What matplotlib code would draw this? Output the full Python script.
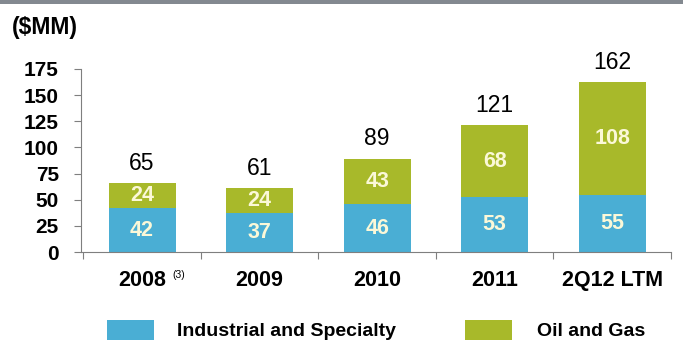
import matplotlib.pyplot as plt
import numpy as np
from matplotlib.patches import Rectangle

plt.rcParams['font.family'] = ['Liberation Sans', 'DejaVu Sans']

categories = ['2008', '2009', '2010', '2011', '2Q12 LTM']
industrial = [42, 37, 46, 53, 55]
oil_gas = [24, 24, 43, 68, 108]
totals = [65, 61, 89, 121, 162]

blue = '#4aaed4'
green = '#a8b92a'
label_col = '#fbf8d8'
axis_col = '#7f7f7f'

fig = plt.figure(figsize=(6.83, 3.43), dpi=100)
fig.patch.set_facecolor('white')

# grey band along the top
fig.add_artist(Rectangle((0, 0.987), 1, 0.013, transform=fig.transFigure,
                         color='#838990', lw=0))
fig.text(0.018, 0.921, '($MM)', fontsize=16.5, fontweight='bold',
         ha='left', va='center')

ax = fig.add_axes([0.1186, 0.265, 0.8638, 0.534])
x = np.arange(len(categories))
w = 0.57
ax.bar(x, industrial, w, color=blue, lw=0)
ax.bar(x, oil_gas, w, bottom=industrial, color=green, lw=0)

for i in range(len(categories)):
    ax.text(x[i], industrial[i] / 2, str(industrial[i]), ha='center',
            va='center', fontsize=15.5, fontweight='bold', color=label_col)
    ax.text(x[i], industrial[i] + oil_gas[i] / 2, str(oil_gas[i]), ha='center',
            va='center', fontsize=15.5, fontweight='bold', color=label_col)
    ax.text(x[i], totals[i] + 13, str(totals[i]), ha='center', va='baseline',
            fontsize=16.5, color='black')

ax.set_xlim(-0.52, len(categories) - 0.5)
ax.set_ylim(0, 175)
ax.set_yticks(range(0, 176, 25))
ax.tick_params(axis='y', length=5, color=axis_col, labelsize=15, pad=11)
for t in ax.get_yticklabels():
    t.set_fontweight('bold')

# category separators below the axis
ax.set_xticks(np.arange(len(categories) + 1) - 0.5)
ax.set_xticklabels([])
ax.tick_params(axis='x', length=5, color=axis_col, direction='out')
for i, c in enumerate(categories):
    ax.text(x[i], -32, c, ha='center', va='baseline', fontsize=15.5,
            fontweight='bold')
ax.text(0.254, -24.5, '(3)', ha='left', va='baseline', fontsize=7.5)

for s in ['top', 'right']:
    ax.spines[s].set_visible(False)
for s in ['left', 'bottom']:
    ax.spines[s].set_color(axis_col)

# legend
fig.add_artist(Rectangle((107 / 683, 3 / 343), 47 / 683, 20 / 343,
                         transform=fig.transFigure, color=blue, lw=0))
fig.text(177 / 683, 1 - 331 / 343, 'Industrial and Specialty', fontsize=14,
         fontweight='bold', va='center')
fig.add_artist(Rectangle((465 / 683, 3 / 343), 47 / 683, 20 / 343,
                         transform=fig.transFigure, color=green, lw=0))
fig.text(537 / 683, 1 - 331 / 343, 'Oil and Gas', fontsize=14,
         fontweight='bold', va='center')

fig.savefig('out.png', dpi=100)
